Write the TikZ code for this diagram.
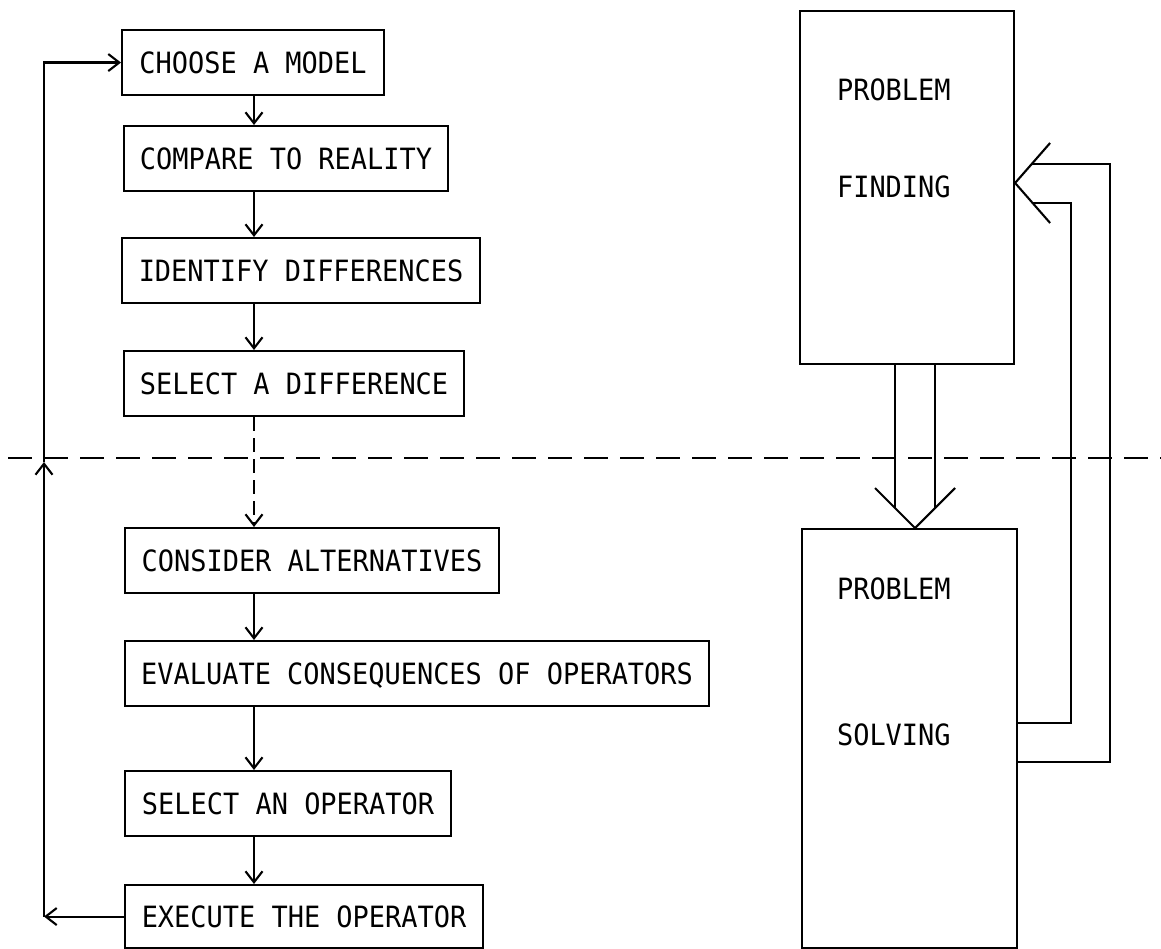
\documentclass[tikz,border=0pt]{standalone}
\usepackage{fontspec}
\newfontfamily\boxfont[FakeStretch=0.92]{DejaVu Sans Mono}
\usetikzlibrary{arrows.meta,calc}
\begin{document}
\begin{tikzpicture}[x=1pt,y=-1pt,line width=2.1pt,
  lbox/.style={draw, anchor=north west, minimum height=65pt, inner sep=0pt,
    text height=21pt, text depth=0pt, font=\boxfont\fontsize{29.3}{30}\selectfont},
  rbox/.style={draw, anchor=north west, inner sep=0pt},
  rlabel/.style={anchor=west, inner sep=0pt, text height=21pt, text depth=0pt,
    font=\boxfont\fontsize{29.3}{30}\selectfont},
  sarrow/.style={-{Straight Barb[length=11pt,width=17pt]}},
  sepline/.style={dash pattern=on 24pt off 12pt},
  dashconn/.style={dash pattern=on 14pt off 7pt}]
\useasboundingbox (0,0) rectangle (1161,949);

% left column
\node[lbox, minimum width=262pt] (b1) at (121,29)  {CHOOSE A MODEL};
\node[lbox, minimum width=324pt] (b2) at (123,125) {COMPARE TO REALITY};
\node[lbox, minimum width=358pt] (b3) at (121,237) {IDENTIFY DIFFERENCES};
\node[lbox, minimum width=340pt] (b4) at (123,350) {SELECT A DIFFERENCE};
\node[lbox, minimum width=374pt] (b5) at (124,527) {CONSIDER ALTERNATIVES};
\node[lbox, minimum width=584pt] (b6) at (124,640) {EVALUATE CONSEQUENCES OF OPERATORS};
\node[lbox, minimum width=326pt] (b7) at (124,770) {SELECT AN OPERATOR};
\node[lbox, minimum width=358pt, minimum height=63pt] (b8) at (124,884) {EXECUTE THE OPERATOR};

\coordinate (xline) at (254,0);
\draw[sarrow] (b1.south -| xline) -- (b2.north -| xline);
\draw[sarrow] (b2.south -| xline) -- (b3.north -| xline);
\draw[sarrow] (b3.south -| xline) -- (b4.north -| xline);
\draw[sarrow, dashconn] (b4.south -| xline) -- (b5.north -| xline);
\draw[sarrow] (b5.south -| xline) -- (b6.north -| xline);
\draw[sarrow] (b6.south -| xline) -- (b7.north -| xline);
\draw[sarrow] (b7.south -| xline) -- (b8.north -| xline);

% left feedback loop
\coordinate (lx) at (44,0);
\coordinate (cross) at (44,462);
\draw[sarrow] (b8.west) -- (b8.west -| lx);
\draw[sarrow] (b8.west -| lx) -- (cross);
\draw[sarrow] (cross) -- (lx |- b1.west) -- (b1.west);

% separating dashed line
\coordinate (dl) at (8,458);
\coordinate (dr) at (1161,458);
\draw[sepline] (dl) -- (dr);

% right column
\node[rbox, minimum width=214pt, minimum height=353pt] (R1) at (799,10) {};
\node[rbox, minimum width=215pt, minimum height=419pt] (R2) at (801,528) {};
\node[rlabel] (p1) at (836,90)  {PROBLEM};
\node[rlabel] (f1) at (836,187) {FINDING};
\node[rlabel] (p2) at (836,589) {PROBLEM};
\node[rlabel] (s2) at (836,735) {SOLVING};

% double arrow down
\coordinate (dtip) at ($(R2.north west)+(114,0)$);
\coordinate (sh1) at ($(R1.south west)+(96,0)$);
\coordinate (sh2) at ($(R1.south west)+(136,0)$);
\coordinate (se1) at ($(dtip)+(-20,-20)$);
\coordinate (se2) at ($(dtip)+(20,-20)$);
\coordinate (da1) at ($(dtip)+(-40,-40)$);
\coordinate (da2) at ($(dtip)+(40,-40)$);
\draw (sh1) -- (sh1 |- se1);
\draw (sh2) -- (sh2 |- se2);
\draw (da1) -- (dtip) -- (da2);

% double feedback arrow up
\coordinate (ftip) at ($(R1.north east)+(0,173)$);
\coordinate (fa1) at ($(ftip)+(35,-40)$);
\coordinate (fa2) at ($(ftip)+(35,40)$);
\coordinate (oa) at ($(ftip)+(16.6,-19)$);
\coordinate (ia) at ($(ftip)+(17.5,20)$);
\coordinate (ox) at (1110,0);
\coordinate (ix) at (1071,0);
\coordinate (o2) at ($(R2.north east)+(0,234)$);
\coordinate (i2) at ($(R2.north east)+(0,195)$);
\draw (fa1) -- (ftip) -- (fa2);
\draw (oa) -- (oa -| ox) -- (ox |- o2) -- (o2);
\draw (ia) -- (ia -| ix) -- (ix |- i2) -- (i2);
\end{tikzpicture}
\end{document}
